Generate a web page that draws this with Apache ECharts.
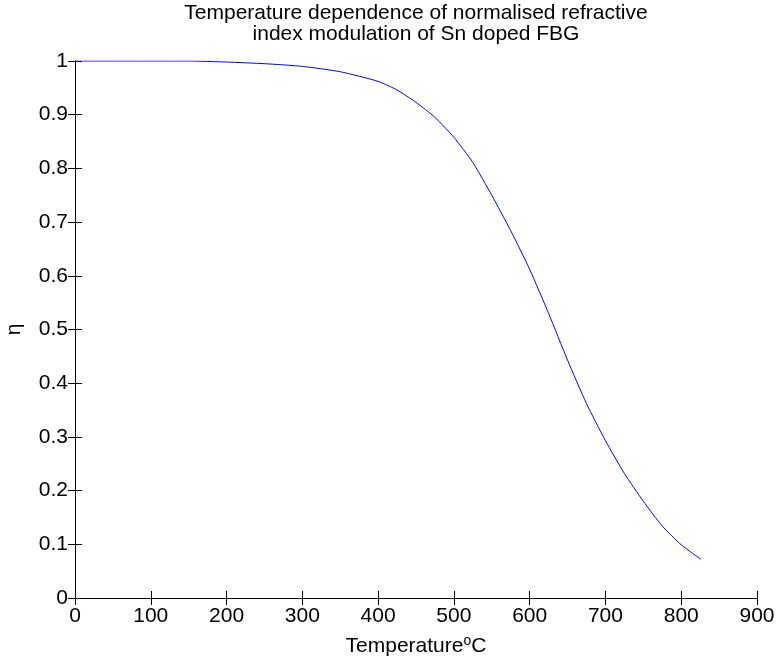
<!DOCTYPE html>
<html>
<head>
<meta charset="utf-8">
<script src="https://cdn.jsdelivr.net/npm/echarts@6/dist/echarts.min.js"></script>
<style>html,body{margin:0;padding:0;background:#fff}#c{width:779px;height:662px}</style>
</head>
<body>
<div id="c"></div>
<script>
const temperature = [0, 50, 100, 150, 200, 250, 300, 350, 400, 425, 450, 475, 500, 525, 550, 575, 600, 625, 650, 675, 700, 725, 750, 775, 800, 826];
const eta = [1.0, 1.0, 1.0, 1.0, 0.998, 0.995, 0.990, 0.980, 0.962, 0.946, 0.923, 0.895, 0.858, 0.811, 0.750, 0.684, 0.612, 0.530, 0.443, 0.362, 0.293, 0.232, 0.180, 0.134, 0.099, 0.072];
const xTicks = [0, 100, 200, 300, 400, 500, 600, 700, 800, 900];
const yTicks = [0, 0.1, 0.2, 0.3, 0.4, 0.5, 0.6, 0.7, 0.8, 0.9, 1];
const titleLines = ['Temperature dependence of normalised refractive', 'index modulation of Sn doped FBG'];

const font = 'Liberation Sans, Arial, sans-serif';
const fs = 21;
const chart = echarts.init(document.getElementById('c'));
const axisLine = {show: true, lineStyle: {color: '#000', width: 1}};
const tick = {show: true, inside: true, length: 7, lineStyle: {color: '#000'}};
chart.setOption({
  animation: false,
  backgroundColor: '#fff',
  title: {
    text: titleLines.join('\n'),
    left: 416, top: 3, padding: 0, textAlign: 'center',
    textStyle: {fontFamily: font, fontSize: fs, fontWeight: 'normal', color: '#000', lineHeight: 21}
  },
  grid: {left: 75, right: 22, top: 61, bottom: 64, containLabel: false, outerBoundsMode: 'none'},
  xAxis: [{
    type: 'value', min: 0, max: 900, interval: 100,
    axisLine, axisTick: tick, splitLine: {show: false},
    axisLabel: {fontFamily: font, fontSize: fs, color: '#000', margin: 8,
      formatter: v => xTicks.includes(v) ? String(v) : ''},
    name: 'Temperature{s|o}C', nameLocation: 'middle', nameGap: 36,
    nameTextStyle: {fontFamily: font, fontSize: fs, color: '#000', lineHeight: 24,
      rich: {s: {fontFamily: font, fontSize: 14, lineHeight: 24, verticalAlign: 'top', color: '#000'}}}
  }, {
    type: 'value', position: 'top', min: 0, max: 900, interval: 100,
    axisLine, axisTick: tick, axisLabel: {show: false}, splitLine: {show: false}
  }],
  yAxis: [{
    type: 'value', min: 0, max: 1, interval: 0.1,
    axisLine, axisTick: tick, splitLine: {show: false},
    axisLabel: {fontFamily: font, fontSize: fs, color: '#000', margin: 7,
      formatter: v => { const r = Math.round(v * 10) / 10; return yTicks.includes(r) ? String(r) : ''; }},
    name: 'η', nameLocation: 'middle', nameGap: 50, nameRotate: 90,
    nameTextStyle: {fontFamily: font, fontSize: fs, color: '#000'}
  }, {
    type: 'value', position: 'right', min: 0, max: 1, interval: 0.1,
    axisLine, axisTick: tick, axisLabel: {show: false}, splitLine: {show: false}
  }],
  series: [{
    type: 'line', xAxisIndex: 0, yAxisIndex: 0,
    data: temperature.map((t, i) => [t, eta[i]]),
    smooth: 0.2, showSymbol: false, symbol: 'none',
    lineStyle: {color: '#0000ff', width: 1}
  }]
});
</script>
</body>
</html>
